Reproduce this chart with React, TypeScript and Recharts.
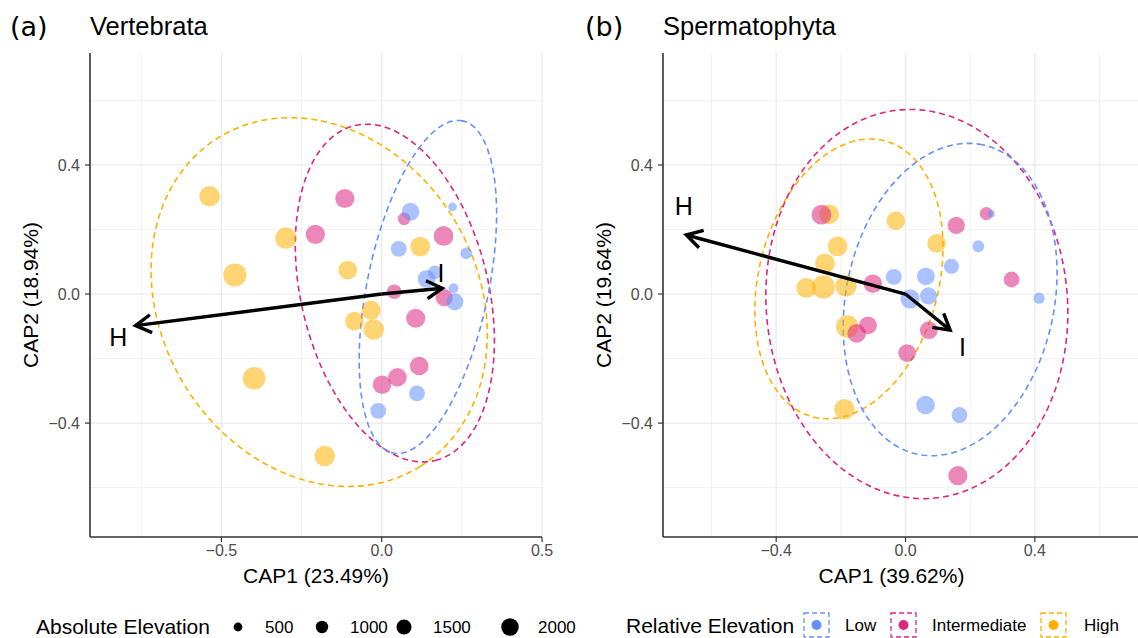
import React from "react"
import { ScatterChart, Scatter, XAxis, YAxis, CartesianGrid, ReferenceLine } from "recharts"

const FONT = '"Liberation Sans", Arial, sans-serif'

const LOW = "#648FFF"
const MID = "#DC267F"
const HIGH = "#FFB000"

// rows: [CAP1, CAP2, absolute elevation (m)]
const vertLow = [
  [0.09, 0.255, 2060], [0.221, 0.27, 480], [0.053, 0.14, 1630], [0.264, 0.126, 910], [0.14, 0.047, 2060],
  [0.166, 0.067, 1240], [0.224, 0.018, 630], [0.228, -0.024, 1930], [0.11, -0.308, 1630], [-0.011, -0.362, 1630],
]
const vertMid = [
  [-0.115, 0.296, 2400], [-0.207, 0.185, 2400], [0.07, 0.233, 1030], [0.193, 0.18, 2550], [0.039, 0.007, 1390],
  [0.195, -0.011, 1930], [0.106, -0.075, 2400], [0.117, -0.223, 2250], [0.049, -0.258, 2250], [0.001, -0.281, 2250],
]
const vertHigh = [
  [-0.537, 0.303, 2760], [-0.299, 0.173, 2930], [-0.458, 0.059, 3500], [-0.106, 0.074, 2250], [0.12, 0.147, 2550],
  [-0.033, -0.05, 2400], [-0.085, -0.084, 2250], [-0.025, -0.11, 2760], [-0.398, -0.261, 3320], [-0.178, -0.502, 2760],
]

const plantLow = [
  [0.265, 0.249, 340], [0.225, 0.148, 910], [0.142, 0.086, 1500], [-0.036, 0.053, 1630], [0.063, 0.055, 2060],
  [0.014, -0.015, 2400], [0.071, -0.006, 1930], [0.413, -0.013, 820], [0.062, -0.344, 2250], [0.167, -0.375, 1630],
]
const plantMid = [
  [-0.26, 0.246, 2550], [0.157, 0.213, 1930], [0.25, 0.249, 1130], [0.328, 0.045, 1630], [-0.101, 0.032, 2250],
  [-0.116, -0.097, 2060], [-0.151, -0.122, 2250], [0.072, -0.112, 2060], [0.005, -0.183, 2060], [0.162, -0.563, 2400],
]
const plantHigh = [
  [-0.236, 0.247, 2550], [-0.03, 0.227, 2250], [-0.21, 0.148, 2550], [0.096, 0.157, 2250], [-0.249, 0.095, 2550],
  [-0.307, 0.019, 2550], [-0.254, 0.022, 3500], [-0.184, 0.025, 2930], [-0.18, -0.101, 3320], [-0.189, -0.357, 2760],
]

// 95% ellipses: [centre x, centre y, semi-major, semi-minor, angle deg]
const vertEllipses = { low: [0.144, 0.022, 0.526, 0.189, 78.1], mid: [0.041, 0.003, 0.534, 0.292, -76.3], high: [-0.195, -0.025, 0.599, 0.493, -58.2] }
const plantEllipses = { low: [0.138, -0.017, 0.49, 0.322, 78.2], mid: [0.035, -0.031, 0.604, 0.466, -85.2], high: [-0.175, 0.047, 0.442, 0.278, 75.5] }

// biplot vectors
const vertArrows = [{ name: "H", x: -0.768, y: -0.098, lx: -0.822, ly: -0.132 }, { name: "I", x: 0.189, y: 0.018, lx: 0.185, ly: 0.064 }]
const plantArrows = [{ name: "H", x: -0.678, y: 0.183, lx: -0.686, ly: 0.274 }, { name: "I", x: 0.138, y: -0.112, lx: 0.176, ly: -0.163 }]

const yTicks = [-0.4, 0, 0.4]
const yMinor = [-0.6, -0.2, 0.2, 0.6]
const legendSizes = [500, 1000, 1500, 2000]
const legendGroups = [{ name: "Low", color: LOW }, { name: "Intermediate", color: MID }, { name: "High", color: HIGH }]

const rOf = (elev: number) => 0.196 * Math.sqrt(elev)
const toPts = (rows: number[][]) => rows.map(([x, y, elev]) => ({ x, y, elev }))
const fmt = (v: number) => (v < 0 ? "\u2212" : "") + Math.abs(v).toFixed(1)

function ellipse(e: number[]) {
  const [cx, cy, a, b, deg] = e
  const th = (deg * Math.PI) / 180
  const out = []
  for (let i = 0; i <= 120; i++) {
    const t = (i / 120) * 2 * Math.PI
    out.push({
      x: cx + a * Math.cos(th) * Math.cos(t) - b * Math.sin(th) * Math.sin(t),
      y: cy + a * Math.sin(th) * Math.cos(t) + b * Math.cos(th) * Math.sin(t),
    })
  }
  return out
}

const dot = (color: string) => (p: any) => (
  <circle cx={p.cx} cy={p.cy} r={rOf(p.payload.elev)} fill={color} fillOpacity={0.55} />
)

const ArrowShape = (p: any) => {
  const { x1, y1, x2, y2 } = p
  const ang = Math.atan2(y2 - y1, x2 - x1)
  const L = 18
  const h = Math.PI / 6
  const ax = x2 - L * Math.cos(ang - h)
  const ay = y2 - L * Math.sin(ang - h)
  const bx = x2 - L * Math.cos(ang + h)
  const by = y2 - L * Math.sin(ang + h)
  return (
    <g>
      <line x1={x1} y1={y1} x2={x2} y2={y2} stroke="#000" strokeWidth={3.4} />
      <polyline points={`${ax},${ay} ${x2},${y2} ${bx},${by}`} fill="none" stroke="#000" strokeWidth={3.4} />
    </g>
  )
}

interface PanelProps {
  left: number
  width: number
  marginRight: number
  xDomain: number[]
  xTicks: number[]
  xMinor: number[]
  xLabel: string
  xShift: number
  yLabel: string
  low: number[][]
  mid: number[][]
  high: number[][]
  ellipses: { low: number[]; mid: number[]; high: number[] }
  arrows: { name: string; x: number; y: number; lx: number; ly: number }[]
}

function Panel(props: PanelProps) {
  const axisTick = { fill: "#4d4d4d", fontSize: 16, fontFamily: FONT }
  return (
    <div style={{ position: "absolute", left: props.left, top: 0 }}>
      <ScatterChart width={props.width} height={600} margin={{ top: 53, right: props.marginRight, bottom: 0, left: 0 }}>
        <CartesianGrid stroke="#ebebeb" strokeWidth={0.7} horizontalValues={yMinor} verticalValues={props.xMinor} />
        <CartesianGrid stroke="#ebebeb" strokeWidth={1.3} horizontalValues={yTicks} verticalValues={props.xTicks} />
        <XAxis
          type="number"
          dataKey="x"
          domain={props.xDomain}
          ticks={props.xTicks}
          interval={0}
          allowDataOverflow
          height={63}
          tickSize={5}
          tickMargin={3}
          tick={axisTick}
          tickLine={{ stroke: "#333", strokeWidth: 1.2 }}
          axisLine={{ stroke: "#333", strokeWidth: 1.6 }}
          tickFormatter={fmt}
          label={{
            content: ({ viewBox }: any) => (
              <text x={viewBox.x + viewBox.width / 2 + props.xShift} y={viewBox.y + 46} textAnchor="middle" fontSize={21} fontFamily={FONT} fill="#000">
                {props.xLabel}
              </text>
            ),
          }}
        />
        <YAxis
          type="number"
          dataKey="y"
          domain={[-0.753, 0.747]}
          ticks={yTicks}
          interval={0}
          allowDataOverflow
          width={90}
          tickSize={5}
          tickMargin={5}
          tick={axisTick}
          tickLine={{ stroke: "#333", strokeWidth: 1.2 }}
          axisLine={{ stroke: "#333", strokeWidth: 1.6 }}
          tickFormatter={fmt}
          label={{
            content: ({ viewBox }: any) => {
              const cx = viewBox.x + 30
              const cy = viewBox.y + viewBox.height / 2
              return (
                <text x={cx} y={cy} transform={`rotate(-90 ${cx} ${cy})`} textAnchor="middle" dominantBaseline="central" fontSize={21} fontFamily={FONT} fill="#000">
                  {props.yLabel}
                </text>
              )
            },
          }}
        />
        {(["high", "mid", "low"] as const).map((k) => (
          <Scatter
            key={"e" + k}
            data={ellipse(props.ellipses[k])}
            line={{ stroke: k === "low" ? LOW : k === "mid" ? MID : HIGH, strokeWidth: 1.6, strokeDasharray: "6 4" }}
            lineType="joint"
            shape={() => <g />}
            isAnimationActive={false}
          />
        ))}
        <Scatter data={toPts(props.high)} shape={dot(HIGH)} isAnimationActive={false} />
        <Scatter data={toPts(props.mid)} shape={dot(MID)} isAnimationActive={false} />
        <Scatter data={toPts(props.low)} shape={dot(LOW)} isAnimationActive={false} />
        {props.arrows.map((a) => (
          <ReferenceLine key={a.name} segment={[{ x: 0, y: 0 }, { x: a.x, y: a.y }]} shape={ArrowShape} zIndex={1000} />
        ))}
        <Scatter
          data={props.arrows.map((a) => ({ x: a.lx, y: a.ly, name: a.name }))}
          shape={(p: any) => (
            <text x={p.cx} y={p.cy} textAnchor="middle" dominantBaseline="central" fontSize={25} fontFamily={FONT} fill="#000">
              {p.payload.name}
            </text>
          )}
          isAnimationActive={false}
        />
      </ScatterChart>
    </div>
  )
}

export default function App() {
  const sizeX = [238, 322, 404, 510]
  const sizeLabelX = [265, 350, 433, 538]
  const keyX = [804, 891, 1041]
  const keyLabelX = [845, 932, 1084]
  return (
    <div style={{ position: "absolute", left: 0, top: 0, width: 1138, height: 638, background: "#fff", overflow: "hidden" }}>
      <Panel
        left={0}
        width={560}
        marginRight={18}
        xDomain={[-0.91, 0.5]}
        xTicks={[-0.5, 0, 0.5]}
        xMinor={[-0.75, -0.25, 0.25]}
        xLabel="CAP1 (23.49%)"
        xShift={0}
        yLabel="CAP2 (18.94%)"
        low={vertLow}
        mid={vertMid}
        high={vertHigh}
        ellipses={vertEllipses}
        arrows={vertArrows}
      />
      <Panel
        left={573}
        width={565}
        marginRight={0}
        xDomain={[-0.75, 0.719]}
        xTicks={[-0.4, 0, 0.4]}
        xMinor={[-0.6, -0.2, 0.2, 0.6]}
        xLabel="CAP1 (39.62%)"
        xShift={-9}
        yLabel="CAP2 (19.64%)"
        low={plantLow}
        mid={plantMid}
        high={plantHigh}
        ellipses={plantEllipses}
        arrows={plantArrows}
      />
      <svg width={1138} height={638} style={{ position: "absolute", left: 0, top: 0, pointerEvents: "none" }}>
        <text x={10} y={36} fontSize={27} fontFamily='"DejaVu Sans", sans-serif' fill="#000">(a)</text>
        <text x={90} y={35} fontSize={25.5} fontFamily={FONT} fill="#000">Vertebrata</text>
        <text x={585} y={36} fontSize={27} fontFamily='"DejaVu Sans", sans-serif' fill="#000">(b)</text>
        <text x={663} y={35} fontSize={25.5} fontFamily={FONT} fill="#000">Spermatophyta</text>

        <text x={36} y={634} fontSize={21} fontFamily={FONT} fill="#000">Absolute Elevation</text>
        {legendSizes.map((s, i) => (
          <g key={s}>
            <circle cx={sizeX[i]} cy={627} r={rOf(s)} fill="#000" />
            <text x={sizeLabelX[i]} y={633} fontSize={17} fontFamily={FONT} fill="#000">{s}</text>
          </g>
        ))}

        <text x={626} y={633} fontSize={21} fontFamily={FONT} fill="#000">Relative Elevation</text>
        {legendGroups.map((g, i) => (
          <g key={g.name}>
            <rect x={keyX[i]} y={613} width={25} height={24} fill="none" stroke={g.color} strokeWidth={1.3} strokeDasharray="5 3" />
            <circle cx={keyX[i] + 12.5} cy={625} r={5} fill={g.color} />
            <text x={keyLabelX[i]} y={631} fontSize={17} fontFamily={FONT} fill="#000">{g.name}</text>
          </g>
        ))}
      </svg>
    </div>
  )
}
